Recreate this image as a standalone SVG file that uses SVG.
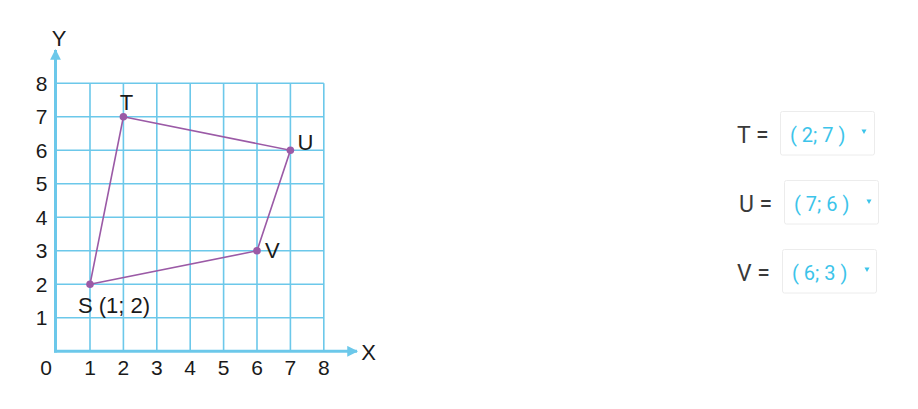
<svg xmlns="http://www.w3.org/2000/svg" width="918" height="409" viewBox="0 0 918 409">
<style>
.grid{stroke:#6cc8ea;stroke-width:1.6;fill:none}
.axis{stroke:#6cc8ea;stroke-width:3;fill:none}
.num{font-family:"Liberation Sans",Arial,sans-serif;font-size:21px;fill:#1a1a1a}
.lbl{font-family:"Liberation Sans",Arial,sans-serif;font-size:22px;fill:#1a1a1a}
.edge{stroke:#9b5aa6;stroke-width:1.6;fill:none}
.pt{fill:#9b5aa6}
.eq{font-family:Roboto,"Open Sans",sans-serif;font-size:23px;fill:#3a3a3a}
.val{font-family:Roboto,"Open Sans",sans-serif;font-size:20px;fill:#3cc4ea}
.box{fill:#fff;stroke:#ececec;stroke-width:1}
.tri{fill:#3cc4ea}
</style>
<defs>
<marker id="arr" viewBox="0 0 10 10" refX="9" refY="5" markerWidth="4" markerHeight="3.6" orient="auto" markerUnits="strokeWidth">
<path d="M0,0 L10,5 L0,10 z" fill="#6cc8ea"/>
</marker>
</defs>
<g id="grid">
<path class="grid" d="M90,83.3V351 M123.4,83.3V351 M156.8,83.3V351 M190.2,83.3V351 M223.6,83.3V351 M257,83.3V351 M290.4,83.3V351 M323.8,83.3V351"/>
<path class="grid" d="M56,83.3H323.8 M56,116.8H323.8 M56,150.3H323.8 M56,183.8H323.8 M56,217.3H323.8 M56,250.8H323.8 M56,284.3H323.8 M56,317.8H323.8"/>
</g>
<g id="axes">
<line class="axis" x1="55.5" y1="352.5" x2="55.5" y2="50" marker-end="url(#arr)"/>
<line class="axis" x1="54" y1="351.3" x2="357" y2="351.3" marker-end="url(#arr)"/>
<text class="lbl" x="59" y="46" text-anchor="middle">Y</text>
<text class="lbl" x="368.5" y="360" text-anchor="middle">X</text>
</g>
<g id="ticks" class="num" text-anchor="middle">
<text x="46" y="375">0</text>
<text x="90" y="375">1</text>
<text x="123.4" y="375">2</text>
<text x="156.8" y="375">3</text>
<text x="190.2" y="375">4</text>
<text x="223.6" y="375">5</text>
<text x="257" y="375">6</text>
<text x="290.4" y="375">7</text>
<text x="323.8" y="375">8</text>
<text x="41.5" y="325.3">1</text>
<text x="41.5" y="291.8">2</text>
<text x="41.5" y="258.3">3</text>
<text x="41.5" y="224.8">4</text>
<text x="41.5" y="191.3">5</text>
<text x="41.5" y="157.8">6</text>
<text x="41.5" y="124.3">7</text>
<text x="41.5" y="90.8">8</text>
</g>
<g id="connectors">
<polygon class="edge" points="123.4,116.8 290.4,150.3 257,250.8 90,284.3"/>
</g>
<g id="node-T"><circle class="pt" cx="123.4" cy="116.8" r="3.8"/><text class="lbl" x="126.5" y="110" text-anchor="middle">T</text></g>
<g id="node-U"><circle class="pt" cx="290.4" cy="150.3" r="3.8"/><text class="lbl" x="297.5" y="149.5">U</text></g>
<g id="node-V"><circle class="pt" cx="257" cy="250.8" r="3.8"/><text class="lbl" x="265" y="258">V</text></g>
<g id="node-S"><circle class="pt" cx="90" cy="284.3" r="3.8"/><text class="lbl" x="78" y="313">S (1; 2)</text></g>
<g id="answer-T">
<text class="eq" x="737" y="143">T =</text>
<rect class="box" x="780.5" y="111.5" width="94" height="43.5" rx="2"/>
<text class="val" x="790" y="142">( 2; 7 )</text>
<path class="tri" d="M861.5,129.5h5l-2.5,4.5z"/>
</g>
<g id="answer-U">
<text class="eq" x="739" y="212">U =</text>
<rect class="box" x="784.5" y="180.5" width="94" height="43.5" rx="2"/>
<text class="val" x="794" y="211">( 7; 6 )</text>
<path class="tri" d="M866.5,199.5h5l-2.5,4.5z"/>
</g>
<g id="answer-V">
<text class="eq" x="737" y="281">V =</text>
<rect class="box" x="782.5" y="249.5" width="94" height="43.5" rx="2"/>
<text class="val" x="792" y="280">( 6; 3 )</text>
<path class="tri" d="M864.5,267.5h5l-2.5,4.5z"/>
</g>
</svg>
